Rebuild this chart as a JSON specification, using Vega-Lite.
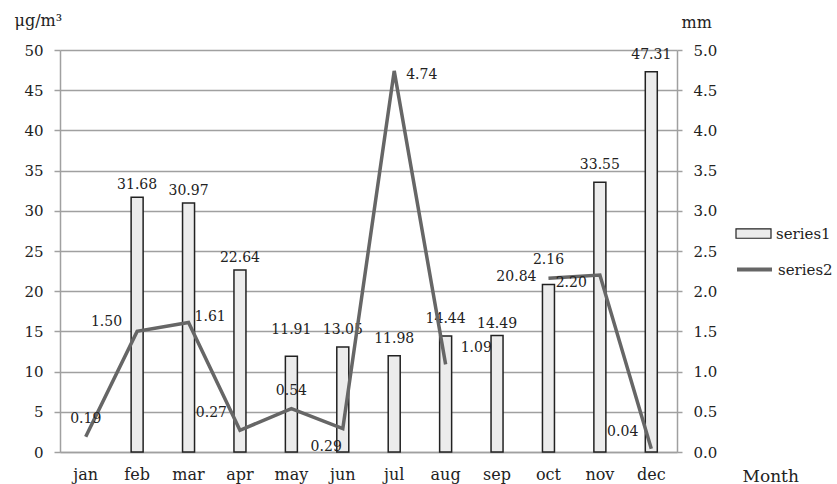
{
  "$schema": "https://vega.github.io/schema/vega-lite/v6.json",
  "width": 617,
  "height": 402,
  "autosize": {"type": "none"},
  "padding": {"left": 60, "top": 50, "right": 160, "bottom": 32},
  "background": "white",
  "config": {"view": {"stroke": null}, "font": "DejaVu Serif"},
  "data": {"values": [
    {"month": "jan", "pm": null, "rain": 0.19},
    {"month": "feb", "pm": 31.68, "rain": 1.50},
    {"month": "mar", "pm": 30.97, "rain": 1.61},
    {"month": "apr", "pm": 22.64, "rain": 0.27},
    {"month": "may", "pm": 11.91, "rain": 0.54},
    {"month": "jun", "pm": 13.05, "rain": 0.29},
    {"month": "jul", "pm": 11.98, "rain": 4.74},
    {"month": "aug", "pm": 14.44, "rain": 1.09},
    {"month": "sep", "pm": 14.49, "rain": null},
    {"month": "oct", "pm": 20.84, "rain": 2.16},
    {"month": "nov", "pm": 33.55, "rain": 2.20},
    {"month": "dec", "pm": 47.31, "rain": 0.04}
  ]},
  "encoding": {
    "x": {
      "field": "month", "type": "ordinal", "sort": null,
      "scale": {"domain": ["jan","feb","mar","apr","may","jun","jul","aug","sep","oct","nov","dec"], "paddingInner": 0, "paddingOuter": 0},
      "axis": {
        "orient": "bottom", "labelAngle": 0, "ticks": false, "grid": false,
        "domainColor": "#a0a0a0", "domainWidth": 1.5,
        "labelFont": "DejaVu Serif", "labelFontSize": 16, "labelColor": "#222", "labelPadding": 14,
        "title": "Month", "titleFont": "DejaVu Serif", "titleFontSize": 17, "titleFontWeight": "normal", "titleColor": "#222",
        "titleAngle": 0, "titleAlign": "left", "titleBaseline": "alphabetic", "titleX": 682, "titleY": 29
      }
    }
  },
  "layer": [
    {
      "encoding": {
        "y": {
          "field": "pm", "type": "quantitative", "scale": {"domain": [0, 50], "nice": false},
          "axis": {
            "orient": "left", "values": [0,5,10,15,20,25,30,35,40,45,50],
            "grid": true, "gridColor": "#a0a0a0", "gridWidth": 1.5,
            "domainColor": "#a0a0a0", "domainWidth": 1.5, "tickColor": "#a0a0a0", "tickWidth": 1.5, "tickSize": 6,
            "labelFont": "DejaVu Serif", "labelFontSize": 15, "labelColor": "#222", "labelPadding": 11,
            "title": "μg/m³", "titleFont": "DejaVu Serif", "titleFontSize": 16, "titleFontWeight": "normal", "titleColor": "#222",
            "titleAngle": 0, "titleAlign": "left", "titleBaseline": "alphabetic", "titleX": -46, "titleY": -25
          }
        }
      },
      "layer": [
        {
          "mark": {"type": "bar", "width": 12, "stroke": "#222", "strokeWidth": 1.5},
          "encoding": {
            "fill": {
              "datum": "series1", "scale": {"range": ["#ececec"]},
              "legend": {
                "title": null, "orient": "none", "legendX": 675, "legendY": 165, "padding": 0,
                "symbolType": "M-1,-0.27h2v0.54h-2z", "symbolSize": 1225,
                "symbolStrokeColor": "#222", "symbolStrokeWidth": 1.2, "symbolFillColor": "#ececec",
                "labelFont": "DejaVu Serif", "labelFontSize": 15, "labelColor": "#222", "labelOffset": 4
              }
            }
          }
        },
        {
          "transform": [{"filter": {"field": "month", "oneOf": ["feb","mar","apr","sep"]}}],
          "mark": {"type": "text", "font": "DejaVu Serif", "fontSize": 14, "color": "#222", "baseline": "middle", "dy": -12},
          "encoding": {"text": {"field": "pm", "type": "quantitative", "format": ".2f"}}
        },
        {
          "transform": [{"filter": {"field": "month", "oneOf": ["jun","jul","aug","nov","dec"]}}],
          "mark": {"type": "text", "font": "DejaVu Serif", "fontSize": 14, "color": "#222", "baseline": "middle", "dy": -17},
          "encoding": {"text": {"field": "pm", "type": "quantitative", "format": ".2f"}}
        },
        {
          "transform": [{"filter": {"field": "month", "oneOf": ["may"]}}],
          "mark": {"type": "text", "font": "DejaVu Serif", "fontSize": 14, "color": "#222", "baseline": "middle", "dy": -26},
          "encoding": {"text": {"field": "pm", "type": "quantitative", "format": ".2f"}}
        },
        {
          "transform": [{"filter": {"field": "month", "oneOf": ["oct"]}}],
          "mark": {"type": "text", "font": "DejaVu Serif", "fontSize": 14, "color": "#222", "baseline": "middle", "align": "right", "dx": -12, "dy": -7},
          "encoding": {"text": {"field": "pm", "type": "quantitative", "format": ".2f"}}
        }
      ]
    },
    {
      "encoding": {
        "y": {
          "field": "rain", "type": "quantitative", "scale": {"domain": [0, 5], "nice": false},
          "axis": {
            "orient": "right", "values": [0,0.5,1,1.5,2,2.5,3,3.5,4,4.5,5], "format": ".1f",
            "grid": false,
            "domainColor": "#a0a0a0", "domainWidth": 1.5, "tickColor": "#a0a0a0", "tickWidth": 1.5, "tickSize": 5,
            "labelFont": "DejaVu Serif", "labelFontSize": 15, "labelColor": "#222", "labelPadding": 11,
            "title": "mm", "titleFont": "DejaVu Serif", "titleFontSize": 16, "titleFontWeight": "normal", "titleColor": "#222",
            "titleAngle": 0, "titleAlign": "left", "titleBaseline": "alphabetic", "titleX": 4, "titleY": -23
          }
        }
      },
      "layer": [
        {
          "mark": {"type": "line", "strokeWidth": 3.5, "invalid": "break-paths-show-domains"},
          "encoding": {
            "stroke": {
              "datum": "series2", "scale": {"range": ["#666666"]},
              "legend": {
                "title": null, "orient": "none", "legendX": 675, "legendY": 200, "padding": 0,
                "symbolType": "stroke", "symbolSize": 1225, "symbolStrokeWidth": 4,
                "labelFont": "DejaVu Serif", "labelFontSize": 15, "labelColor": "#222", "labelOffset": 4
              }
            }
          }
        },
        {
          "transform": [{"filter": {"field": "month", "oneOf": ["jan","may","oct"]}}],
          "mark": {"type": "text", "font": "DejaVu Serif", "fontSize": 14, "color": "#222", "baseline": "middle", "dy": -18},
          "encoding": {"text": {"field": "rain", "type": "quantitative", "format": ".2f"}}
        },
        {
          "transform": [{"filter": {"field": "month", "oneOf": ["apr","dec"]}}],
          "mark": {"type": "text", "font": "DejaVu Serif", "fontSize": 14, "color": "#222", "baseline": "middle", "align": "right", "dx": -13, "dy": -17},
          "encoding": {"text": {"field": "rain", "type": "quantitative", "format": ".2f"}}
        },
        {
          "transform": [{"filter": {"field": "month", "oneOf": ["feb"]}}],
          "mark": {"type": "text", "font": "DejaVu Serif", "fontSize": 14, "color": "#222", "baseline": "middle", "align": "right", "dx": -15, "dy": -9},
          "encoding": {"text": {"field": "rain", "type": "quantitative", "format": ".2f"}}
        },
        {
          "transform": [{"filter": {"field": "month", "oneOf": ["mar"]}}],
          "mark": {"type": "text", "font": "DejaVu Serif", "fontSize": 14, "color": "#222", "baseline": "middle", "align": "left", "dx": 6, "dy": -6},
          "encoding": {"text": {"field": "rain", "type": "quantitative", "format": ".2f"}}
        },
        {
          "transform": [{"filter": {"field": "month", "oneOf": ["jul"]}}],
          "mark": {"type": "text", "font": "DejaVu Serif", "fontSize": 14, "color": "#222", "baseline": "middle", "align": "left", "dx": 12, "dy": 4},
          "encoding": {"text": {"field": "rain", "type": "quantitative", "format": ".2f"}}
        },
        {
          "transform": [{"filter": {"field": "month", "oneOf": ["aug"]}}],
          "mark": {"type": "text", "font": "DejaVu Serif", "fontSize": 14, "color": "#222", "baseline": "middle", "align": "left", "dx": 15, "dy": -16},
          "encoding": {"text": {"field": "rain", "type": "quantitative", "format": ".2f"}}
        },
        {
          "transform": [{"filter": {"field": "month", "oneOf": ["jun"]}}],
          "mark": {"type": "text", "font": "DejaVu Serif", "fontSize": 14, "color": "#222", "baseline": "middle", "align": "right", "dx": -1, "dy": 18},
          "encoding": {"text": {"field": "rain", "type": "quantitative", "format": ".2f"}}
        },
        {
          "transform": [{"filter": {"field": "month", "oneOf": ["nov"]}}],
          "mark": {"type": "text", "font": "DejaVu Serif", "fontSize": 14, "color": "#222", "baseline": "middle", "align": "right", "dx": -13, "dy": 8},
          "encoding": {"text": {"field": "rain", "type": "quantitative", "format": ".2f"}}
        }
      ]
    }
  ],
  "resolve": {"scale": {"y": "independent"}}
}
